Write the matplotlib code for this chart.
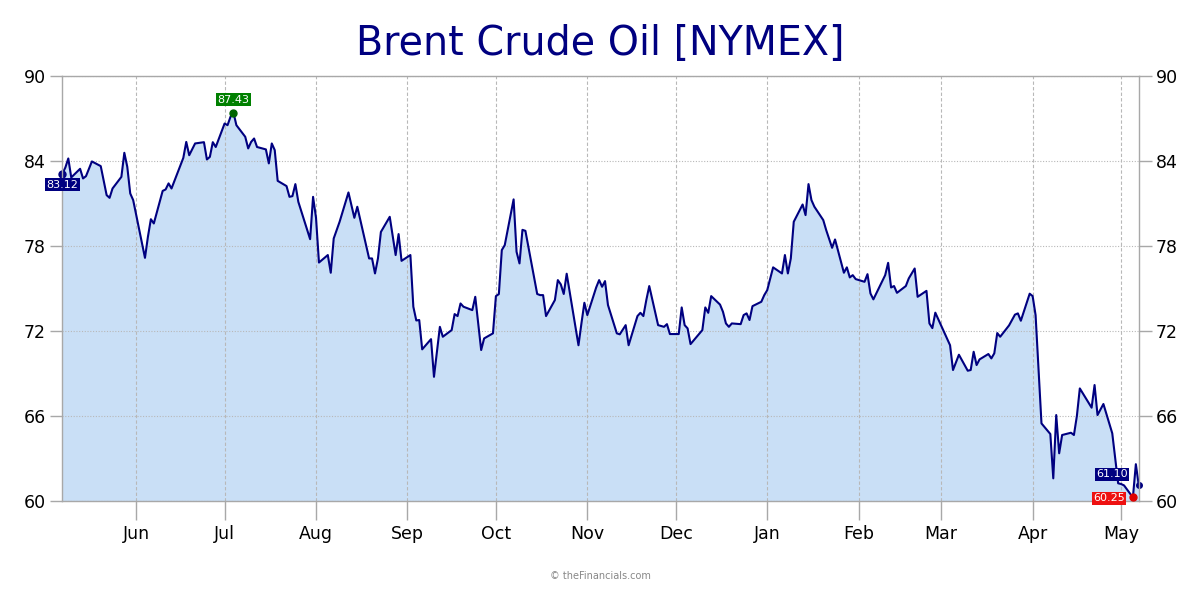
import numpy as np
import pandas as pd
import matplotlib
matplotlib.use('Agg')
import matplotlib.pyplot as plt
import matplotlib.dates as mdates

# Brent front-month
dates = ['2024-05-07', '2024-05-08', '2024-05-09', '2024-05-10', '2024-05-13', '2024-05-14', '2024-05-15',
         '2024-05-17', '2024-05-20', '2024-05-22', '2024-05-23', '2024-05-24', '2024-05-27', '2024-05-28',
         '2024-05-29', '2024-05-30', '2024-05-31', '2024-06-04', '2024-06-05', '2024-06-06', '2024-06-07',
         '2024-06-10', '2024-06-11', '2024-06-12', '2024-06-13', '2024-06-17', '2024-06-18', '2024-06-19',
         '2024-06-21', '2024-06-24', '2024-06-25', '2024-06-26', '2024-06-27', '2024-06-28', '2024-07-01',
         '2024-07-02', '2024-07-03', '2024-07-04', '2024-07-05', '2024-07-08', '2024-07-09', '2024-07-10',
         '2024-07-11', '2024-07-12', '2024-07-15', '2024-07-16', '2024-07-17', '2024-07-18', '2024-07-19',
         '2024-07-22', '2024-07-23', '2024-07-24', '2024-07-25', '2024-07-26', '2024-07-30', '2024-07-31',
         '2024-08-01', '2024-08-02', '2024-08-05', '2024-08-06', '2024-08-07', '2024-08-08', '2024-08-09',
         '2024-08-12', '2024-08-14', '2024-08-15', '2024-08-19', '2024-08-20', '2024-08-21', '2024-08-22',
         '2024-08-23', '2024-08-26', '2024-08-28', '2024-08-29', '2024-08-30', '2024-09-02', '2024-09-03',
         '2024-09-04', '2024-09-05', '2024-09-06', '2024-09-09', '2024-09-10', '2024-09-11', '2024-09-12',
         '2024-09-13', '2024-09-16', '2024-09-17', '2024-09-18', '2024-09-19', '2024-09-20', '2024-09-23',
         '2024-09-24', '2024-09-26', '2024-09-27', '2024-09-30', '2024-10-01', '2024-10-02', '2024-10-03',
         '2024-10-04', '2024-10-07', '2024-10-08', '2024-10-09', '2024-10-10', '2024-10-11', '2024-10-15',
         '2024-10-16', '2024-10-17', '2024-10-18', '2024-10-21', '2024-10-22', '2024-10-23', '2024-10-24',
         '2024-10-25', '2024-10-29', '2024-10-30', '2024-10-31', '2024-11-01', '2024-11-04', '2024-11-05',
         '2024-11-06', '2024-11-07', '2024-11-08', '2024-11-11', '2024-11-12', '2024-11-14', '2024-11-15',
         '2024-11-18', '2024-11-19', '2024-11-20', '2024-11-21', '2024-11-22', '2024-11-25', '2024-11-27',
         '2024-11-28', '2024-11-29', '2024-12-02', '2024-12-03', '2024-12-04', '2024-12-05', '2024-12-06',
         '2024-12-10', '2024-12-11', '2024-12-12', '2024-12-13', '2024-12-16', '2024-12-17', '2024-12-18',
         '2024-12-19', '2024-12-20', '2024-12-23', '2024-12-24', '2024-12-25', '2024-12-26', '2024-12-27',
         '2024-12-30', '2024-12-31', '2025-01-01', '2025-01-03', '2025-01-06', '2025-01-07', '2025-01-08',
         '2025-01-09', '2025-01-10', '2025-01-13', '2025-01-14', '2025-01-15', '2025-01-16', '2025-01-17',
         '2025-01-20', '2025-01-21', '2025-01-23', '2025-01-24', '2025-01-27', '2025-01-28', '2025-01-29',
         '2025-01-30', '2025-01-31', '2025-02-03', '2025-02-04', '2025-02-05', '2025-02-06', '2025-02-10',
         '2025-02-11', '2025-02-12', '2025-02-13', '2025-02-14', '2025-02-17', '2025-02-18', '2025-02-20',
         '2025-02-21', '2025-02-24', '2025-02-25', '2025-02-26', '2025-02-27', '2025-03-04', '2025-03-05',
         '2025-03-07', '2025-03-10', '2025-03-11', '2025-03-12', '2025-03-13', '2025-03-14', '2025-03-17',
         '2025-03-18', '2025-03-19', '2025-03-20', '2025-03-21', '2025-03-24', '2025-03-26', '2025-03-27',
         '2025-03-28', '2025-03-31', '2025-04-01', '2025-04-02', '2025-04-04', '2025-04-07', '2025-04-08',
         '2025-04-09', '2025-04-10', '2025-04-11', '2025-04-14', '2025-04-15', '2025-04-16', '2025-04-17',
         '2025-04-21', '2025-04-22', '2025-04-23', '2025-04-25', '2025-04-28', '2025-04-30', '2025-05-01',
         '2025-05-02', '2025-05-05', '2025-05-06', '2025-05-07']

prices = [83.12, 83.55, 84.19, 82.85, 83.46, 82.78, 82.94,
          83.98, 83.65, 81.60, 81.41, 82.07, 82.89, 84.59,
          83.60, 81.72, 81.25, 77.17, 78.66, 79.90, 79.60,
          81.90, 82.00, 82.43, 82.07, 84.23, 85.36, 84.42,
          85.25, 85.34, 84.12, 84.30, 85.34, 85.00, 86.66,
          86.54, 87.13, 87.43, 86.54, 85.72, 84.90, 85.36,
          85.60, 85.00, 84.83, 83.84, 85.25, 84.78, 82.61,
          82.24, 81.48, 81.53, 82.38, 81.13, 78.49, 81.48,
          80.00, 76.84, 77.37, 76.12, 78.54, 79.13, 79.72,
          81.79, 80.00, 80.78, 77.13, 77.13, 76.07, 77.13,
          79.00, 80.07, 77.37, 78.85, 76.96, 77.37, 73.72,
          72.75, 72.78, 70.71, 71.43, 68.77, 70.54, 72.30,
          71.60, 72.07, 73.20, 73.06, 73.95, 73.72, 73.48,
          74.42, 70.66, 71.48, 71.84, 74.47, 74.61, 77.72,
          78.07, 81.30, 77.60, 76.78, 79.15, 79.08, 74.62,
          74.54, 74.54, 73.06, 74.19, 75.60, 75.30, 74.62,
          76.05, 71.00, 72.54, 74.00, 73.13, 75.08, 75.60,
          75.13, 75.53, 73.84, 71.84, 71.77, 72.42, 71.00,
          73.06, 73.29, 73.06, 74.19, 75.18, 72.42, 72.30,
          72.49, 71.79, 71.79, 73.67, 72.42, 72.19, 71.08,
          72.07, 73.67, 73.29, 74.47, 73.87, 73.36, 72.54,
          72.30, 72.54, 72.49, 73.13, 73.25, 72.78, 73.76,
          74.07, 74.54, 74.89, 76.50, 76.07, 77.37, 76.07,
          77.13, 79.72, 80.94, 80.19, 82.38, 81.25, 80.78,
          79.84, 79.13, 77.88, 78.47, 76.12, 76.50, 75.79,
          75.95, 75.67, 75.48, 76.02, 74.66, 74.24, 75.95,
          76.82, 75.08, 75.18, 74.70, 75.18, 75.72, 76.42,
          74.42, 74.84, 72.54, 72.21, 73.30, 71.00, 69.25,
          70.33, 69.20, 69.25, 70.54, 69.60, 70.00, 70.38,
          70.07, 70.43, 71.86, 71.60, 72.40, 73.16, 73.25,
          72.73, 74.64, 74.47, 73.13, 65.48, 64.73, 61.60,
          66.07, 63.37, 64.66, 64.82, 64.66, 66.00, 67.95,
          66.59, 68.19, 66.07, 66.85, 64.78, 61.25, 61.20,
          61.10, 60.25, 62.60, 61.10]

y_ticks = [60, 66, 72, 78, 84, 90]

df = pd.DataFrame({'date': pd.to_datetime(dates), 'price': prices})

navy = '#000080'
fig = plt.figure(figsize=(12, 6), dpi=100)
ax = fig.add_axes([0.052, 0.165, 0.897, 0.708])

ax.fill_between(df['date'], df['price'], 60, color='#c9dff6', lw=0)
ax.plot(df['date'], df['price'], color=navy, lw=1.5)

ax.set_xlim(df['date'].iloc[0], df['date'].iloc[-1])
ax.set_ylim(60, 90)
ax.set_yticks(y_ticks)
ax.xaxis.set_major_locator(mdates.MonthLocator())
ax.xaxis.set_major_formatter(mdates.DateFormatter('%b'))

ax.grid(axis='x', color='#b8b8b8', ls=(0, (3, 2)), lw=0.8)
ax.grid(axis='y', color='#b8b8b8', ls=(0, (1, 1.5)), lw=0.8)
for s in ax.spines.values():
    s.set_color('#a8a8a8')
    s.set_linewidth(1)

ax.tick_params(axis='x', length=14, width=1, color='#a8a8a8', labelsize=12.5, pad=3)
ax.tick_params(axis='y', length=9, width=1, color='#a8a8a8', labelsize=12.5, pad=3,
               right=True, labelright=True)

# markers + value tags
i_max = df['price'].idxmax()
i_min = df['price'].idxmin()
first = df.iloc[0]
last = df.iloc[-1]

def tag(x, y, txt, bg, dx, dy, ha):
    ax.annotate(txt, (x, y), xytext=(dx, dy), textcoords='offset pixels',
                ha=ha, va='center', fontsize=8, color='white', annotation_clip=False,
                bbox=dict(boxstyle='square,pad=0.12', fc=bg, ec='none'))

ax.plot(first['date'], first['price'], 'o', color=navy, ms=5, clip_on=False)
tag(first['date'], first['price'], f"{first['price']:.2f}", navy, 0, -11, 'center')

ax.plot(df['date'][i_max], df['price'][i_max], 'o', color='#006400', ms=5, clip_on=False)
tag(df['date'][i_max], df['price'][i_max], f"{df['price'][i_max]:.2f}", '#008000', 0, 13, 'center')

ax.plot(df['date'][i_min], df['price'][i_min], 'o', color='#e00000', ms=5, clip_on=False, zorder=5)
tag(df['date'][i_min], df['price'][i_min], f"{df['price'][i_min]:.2f}", '#ee1111', -8, -1, 'right')

ax.plot(last['date'], last['price'], 'o', color=navy, ms=4, clip_on=False)
tag(last['date'], last['price'], f"{last['price']:.2f}", navy, -11, 11, 'right')

fig.text(0.5, 1 - 44 / 600, 'Brent Crude Oil [NYMEX]', ha='center', va='center',
         fontsize=28.5, color=navy)
fig.text(0.5, 1 - 576 / 600, '\u00a9 theFinancials.com', ha='center', va='center',
         fontsize=7, color='#888888')

fig.savefig('out.png', dpi=100)
